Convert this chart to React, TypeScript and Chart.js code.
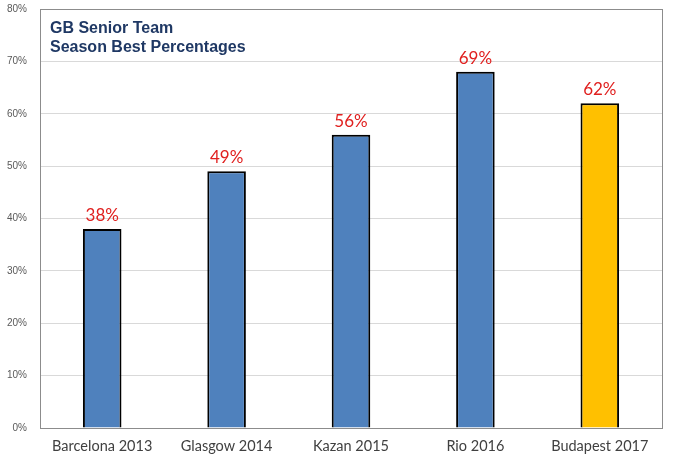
import React, { useEffect, useRef } from "react";
import { Chart, registerables } from "chart.js";

Chart.register(...registerables);

const categories = ["Barcelona 2013", "Glasgow 2014", "Kazan 2015", "Rio 2016", "Budapest 2017"];
const values = [38, 49, 56, 68, 62];
const valueLabels = ["38%", "49%", "56%", "69%", "62%"];
const barColors = ["#4F81BD", "#4F81BD", "#4F81BD", "#4F81BD", "#FFC000"];
const titleLines = ["GB Senior Team", "Season Best Percentages"];

const decorPlugin = {
  id: "decor",
  afterDatasetsDraw(chart: any) {
    const ctx = chart.ctx;
    const area = chart.chartArea;
    ctx.save();
    // frame
    ctx.strokeStyle = "#8c8c8c";
    ctx.lineWidth = 1;
    ctx.strokeRect(Math.round(area.left) + 0.5, Math.round(area.top) + 0.5, Math.round(area.right - area.left), Math.round(area.bottom - area.top));
    // value labels
    const meta = chart.getDatasetMeta(0);
    ctx.fillStyle = "#E0201F";
    ctx.font = "17px Lato, 'Open Sans', sans-serif";
    ctx.textAlign = "center";
    ctx.textBaseline = "alphabetic";
    meta.data.forEach((bar: any, i: number) => {
      ctx.fillText(valueLabels[i], bar.x, bar.y - 8);
    });
    // title
    ctx.fillStyle = "#1F3864";
    ctx.font = "bold 16px 'Liberation Sans', Arial, sans-serif";
    ctx.textAlign = "left";
    titleLines.forEach((t, i) => {
      ctx.fillText(t, area.left + 10, area.top + 24 + i * 19);
    });
    ctx.restore();
  },
};

export default function App() {
  const ref = useRef<HTMLCanvasElement>(null);
  useEffect(() => {
    document.body.style.margin = "0";
    const chart = new Chart(ref.current!, {
      type: "bar",
      data: {
        labels: categories,
        datasets: [
          {
            data: values,
            backgroundColor: barColors,
            borderColor: "#000000",
            borderWidth: 2,
            barPercentage: 0.31,
            categoryPercentage: 1,
          },
        ],
      },
      options: {
        animation: false,
        responsive: false,
        layout: { padding: { left: 0, right: 13, top: 9, bottom: 0 } },
        plugins: { legend: { display: false }, tooltip: { enabled: false } },
        scales: {
          x: {
            grid: { display: false, drawTicks: false },
            border: { display: false },
            ticks: {
              color: "#404040",
              font: { family: "Lato, 'Open Sans', sans-serif", size: 14.5 },
              padding: 10,
              maxRotation: 0,
              autoSkip: false,
            },
            afterFit: (scale: any) => {
              scale.height = 37;
              scale.paddingLeft = 0;
              scale.paddingRight = 0;
            },
          },
          y: {
            min: 0,
            max: 80,
            grid: { color: "#d9d9d9", drawTicks: false },
            border: { display: false },
            ticks: {
              stepSize: 10,
              padding: 13,
              color: "#595959",
              font: { family: "'Liberation Sans', Arial, sans-serif", size: 10 },
              callback: (v: any) => v + "%",
            },
            afterFit: (scale: any) => {
              scale.width = 40;
              scale.paddingTop = 0;
              scale.paddingBottom = 0;
            },
          },
        },
      },
      plugins: [decorPlugin],
    });
    return () => chart.destroy();
  }, []);
  return (
    <div style={{ position: "fixed", left: 0, top: 0, width: 675, height: 465, background: "#fff" }}>
      <canvas ref={ref} width={675} height={465} style={{ width: 675, height: 465 }} />
    </div>
  );
}
